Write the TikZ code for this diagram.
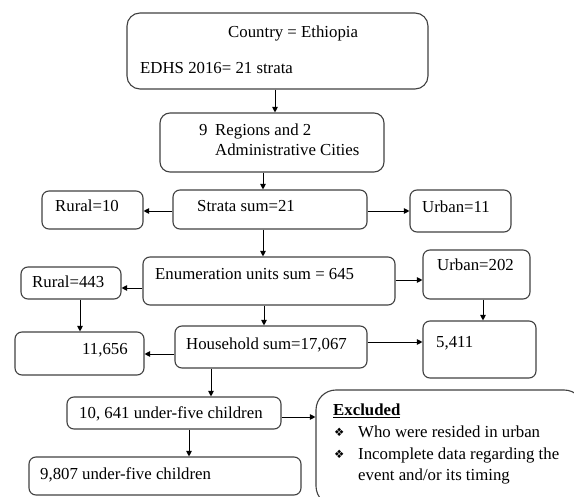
\documentclass[tikz,border=0pt]{standalone}
\usepackage{fontspec}
\setmainfont{Liberation Serif}
\newfontfamily\dingfont{DejaVu Sans}
\usetikzlibrary{arrows.meta}

\begin{document}
\begin{tikzpicture}[x=1pt,y=-1pt,
    main/.style = {draw=black!75, line width=1.1pt, rounded corners=7pt, inner sep=0pt},
    txt/.style = {anchor=base west, inner sep=0pt, font=\fontsize{16.8}{20}\selectfont},
    arr/.style = {draw=black, line width=0.9pt, -{Triangle[length=5.5pt,width=5.5pt]}}]
      \useasboundingbox (0,0) rectangle (574,497);
      \clip (0,0) rectangle (574,497);

      % boxes
      \node[main, rounded corners=13pt, minimum width=301, minimum height=76] at (277.5, 51)(country){};
      \node[main, rounded corners=10pt, minimum width=224, minimum height=59] at (272, 142.5)(regions){};
      \node[main, minimum width=194, minimum height=39] at (270, 209.5)(strata){};
      \node[main, minimum width=101, minimum height=38] at (92.5, 210)(rural1){};
      \node[main, minimum width=101, minimum height=42] at (460.5, 211)(urban1){};
      \node[main, minimum width=252, minimum height=48] at (269, 281)(enum){};
      \node[main, minimum width=100, minimum height=32] at (71, 283)(rural2){};
      \node[main, minimum width=107, minimum height=49] at (476.5, 274.5)(urban2){};
      \node[main, minimum width=129, minimum height=43] at (79.5, 353.5)(rural3){};
      \node[main, minimum width=192, minimum height=42] at (271, 347)(house){};
      \node[main, minimum width=113, minimum height=57] at (479.5, 349.5)(urban3){};
      \node[main, minimum width=214, minimum height=32] at (174, 413)(child){};
      \node[main, minimum width=272, minimum height=38] at (165, 476)(final){};
      \node[main, rounded corners=20pt, minimum width=268, minimum height=116] at (450, 448)(excl){};

      % texts
      \node[txt] at (228, 38)(t1){Country = Ethiopia};
      \node[txt] at (140, 74)(t2){EDHS 2016= 21 strata};
      \node[txt] at (199, 136)(t3){9};
      \node[txt] at (215, 136)(t4){Regions and 2};
      \node[txt] at (215, 156)(t5){Administrative Cities};
      \node[txt] at (197, 212)(t6){Strata sum=21};
      \node[txt] at (55, 212)(t7){Rural=10};
      \node[txt] at (422, 213)(t8){Urban=11};
      \node[txt] at (155, 280)(t9){Enumeration units sum = 645};
      \node[txt] at (32, 288)(t10){Rural=443};
      \node[txt] at (437, 271)(t11){Urban=202};
      \node[txt] at (82, 355)(t12){11,656};
      \node[txt] at (186, 350)(t13){Household sum=17,067};
      \node[txt] at (436, 348)(t14){5,411};
      \node[txt] at (79, 419)(t15){10, 641 under-five children};
      \node[txt] at (40, 480)(t16){9,807 under-five children};
      \node[txt] at (333, 416)(t17){\underline{\textbf{Excluded}}};
      \node[txt, font=\dingfont\fontsize{11.5}{12}\selectfont] at (334, 437)(b1){❖};
      \node[txt, font=\dingfont\fontsize{11.5}{12}\selectfont] at (334, 459)(b2){❖};
      \node[txt] at (358, 438)(t18){Who were resided in urban};
      \node[txt] at (358, 460)(t19){Incomplete data regarding the};
      \node[txt] at (358, 481)(t20){event and/or its timing};

      \path
      (country.south -| 275,0) edge[arr] (regions.north -| 275,0)
      (regions.south -| 263,0) edge[arr] (strata.north -| 263,0)
      (strata.west |- 0,211) edge[arr] (rural1.east |- 0,211)
      (strata.east |- 0,211) edge[arr] (urban1.west |- 0,211)
      (strata.south -| 263,0) edge[arr] (enum.north -| 263,0)

      (enum.west |- 0,288) edge[arr] (rural2.east |- 0,288)
      (enum.east |- 0,280) edge[arr] (urban2.west |- 0,280)
      (rural2.south -| 80,0) edge[arr] (rural3.north -| 80,0)
      (urban2.south -| 483,0) edge[arr] (urban3.north -| 483,0)
      (enum.south -| 264,0) edge[arr] (house.north -| 264,0)

      (house.west |- 0,354) edge[arr] (rural3.east |- 0,354)
      (house.east |- 0,342) edge[arr] (urban3.west |- 0,342)
      (house.south -| 211,0) edge[arr] (child.north -| 211,0)
      (child.south -| 189,0) edge[arr] (final.north -| 189,0)
      (child.east |- 0,417) edge[arr] (excl.west |- 0,417)
      ;

    \end{tikzpicture}
\end{document}
